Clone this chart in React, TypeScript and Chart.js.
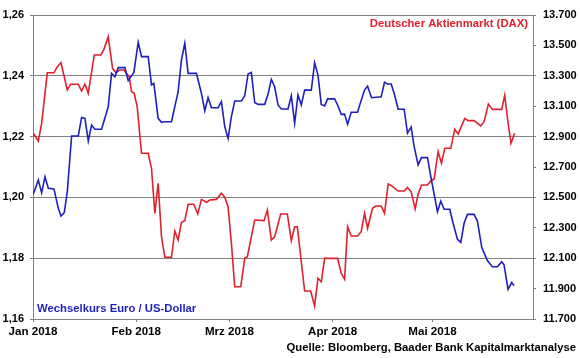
import React, { useEffect, useRef } from "react";
import { Chart, registerables } from "chart.js";

Chart.register(...registerables);

// x values: days since 1 Jan 2018
const usdDays = [0.1, 1.6, 2.6, 3.6, 4.6, 6.3, 7.6, 8.4, 9.4, 10.3, 11.6, 13.6, 14.6, 15.6, 16.6, 17.6, 18.6, 20.6, 22.6, 23.6, 24.6, 25.6, 27.6, 28.6, 30.3, 31.6, 32.6, 34.6, 35.6, 36.3, 37.6, 38.6, 39.6, 41.6, 43.6, 44.6, 45.6, 46.6, 49.1, 50.6, 51.6, 52.6, 53.6, 55.6, 56.6, 57.6, 58.6, 59.6, 60.6, 62.6, 63.6, 64.6, 65.6, 66.6, 67.6, 69.6, 70.6, 71.6, 72.6, 73.6, 74.6, 76.6, 77.6, 78.6, 79.6, 80.6, 81.6, 83.6, 84.6, 85.6, 86.6, 87.6, 88.5, 90.6, 91.5, 92.6, 93.6, 94.5, 95.6, 97.5, 98.6, 99.6, 100.5, 101.7, 104.6, 105.6, 106.5, 107.6, 108.5, 109.7, 111.5, 112.5, 113.6, 114.5, 115.7, 116.7, 118.5, 119.5, 121.5, 122.5, 123.5, 125.2, 126.2, 127.5, 128.5, 129.5, 130.5, 132.5, 133.5, 134.8, 136.5, 138.0, 139.5, 140.8, 141.5, 142.7, 143.8, 144.5];
const usdValues = [1.2011, 1.2057, 1.2015, 1.2068, 1.2030, 1.2028, 1.1964, 1.1939, 1.1950, 1.2019, 1.2202, 1.2202, 1.2263, 1.2260, 1.2186, 1.2238, 1.2224, 1.2224, 1.2298, 1.2408, 1.2397, 1.2427, 1.2427, 1.2384, 1.2411, 1.2510, 1.2463, 1.2463, 1.2370, 1.2375, 1.2260, 1.2247, 1.2249, 1.2249, 1.2348, 1.2452, 1.2507, 1.2408, 1.2408, 1.2342, 1.2285, 1.2328, 1.2295, 1.2295, 1.2315, 1.2233, 1.2194, 1.2266, 1.2317, 1.2317, 1.2334, 1.2406, 1.2411, 1.2312, 1.2306, 1.2306, 1.2339, 1.2388, 1.2364, 1.2304, 1.2291, 1.2291, 1.2334, 1.2244, 1.2337, 1.2304, 1.2353, 1.2353, 1.2443, 1.2403, 1.2306, 1.2301, 1.2324, 1.2324, 1.2304, 1.2273, 1.2274, 1.2241, 1.2280, 1.2280, 1.2320, 1.2353, 1.2366, 1.2328, 1.2331, 1.2379, 1.2373, 1.2373, 1.2342, 1.2290, 1.2290, 1.2211, 1.2231, 1.2167, 1.2107, 1.2131, 1.2131, 1.2068, 1.1953, 1.1988, 1.1961, 1.1961, 1.1915, 1.1862, 1.1852, 1.1915, 1.1944, 1.1944, 1.1922, 1.1836, 1.1792, 1.1772, 1.1772, 1.1788, 1.1778, 1.1698, 1.1720, 1.1710];

const daxDays = [0.1, 1.6, 2.6, 4.3, 6.3, 7.3, 8.4, 10.3, 11.3, 13.6, 14.6, 15.6, 16.6, 18.4, 20.4, 21.3, 22.6, 23.9, 24.9, 25.9, 27.3, 28.9, 29.6, 30.4, 31.3, 32.6, 34.6, 35.6, 36.6, 37.6, 38.6, 39.6, 41.6, 42.6, 43.6, 44.6, 45.6, 46.6, 48.3, 49.5, 50.6, 52.1, 53.1, 55.1, 56.6, 57.6, 58.6, 59.6, 60.6, 62.4, 63.6, 64.4, 66.6, 69.4, 70.4, 71.6, 72.6, 74.4, 76.4, 77.6, 78.6, 79.4, 81.6, 83.4, 84.6, 85.6, 86.6, 87.6, 91.5, 92.6, 93.6, 94.5, 95.6, 97.5, 98.6, 99.6, 100.5, 102.0, 103.0, 104.6, 105.6, 106.7, 107.7, 109.7, 111.5, 112.5, 113.6, 114.8, 115.7, 116.7, 118.5, 119.5, 120.5, 121.7, 122.7, 123.7, 125.5, 126.7, 127.7, 129.7, 130.7, 132.5, 134.5, 135.5, 136.8, 138.0, 140.8, 141.7, 142.7, 143.6, 144.7];
const daxValues = [12922, 12871, 12987, 13320, 13320, 13360, 13386, 13207, 13244, 13244, 13200, 13246, 13185, 13437, 13437, 13474, 13557, 13349, 13320, 13338, 13338, 13294, 13195, 13185, 13097, 12790, 12790, 12691, 12395, 12593, 12241, 12106, 12106, 12279, 12220, 12336, 12347, 12455, 12455, 12391, 12487, 12468, 12483, 12487, 12527, 12501, 12439, 12198, 11912, 11912, 12099, 12110, 12351, 12347, 12417, 12220, 12241, 12391, 12391, 12215, 12307, 12307, 11884, 11884, 11786, 11968, 11945, 12099, 12099, 11999, 11961, 12307, 12246, 12246, 12274, 12395, 12297, 12428, 12443, 12443, 12395, 12588, 12577, 12542, 12542, 12566, 12537, 12424, 12522, 12582, 12582, 12608, 12621, 12801, 12724, 12823, 12823, 12948, 12917, 13020, 13005, 13005, 12970, 12998, 13114, 13079, 13079, 13172, 12991, 12856, 12922];

const monthDays = [0, 31, 59, 90, 120];
const monthLabels = ["Jan 2018", "Feb 2018", "Mrz 2018", "Apr 2018", "Mai 2018"];
const leftTicks = [1.16, 1.18, 1.2, 1.22, 1.24, 1.26];
const rightTicks = [11700, 11900, 12100, 12300, 12500, 12700, 12900, 13100, 13300, 13500, 13700];

const usdLabel = "Wechselkurs Euro / US-Dollar";
const daxLabel = "Deutscher Aktienmarkt (DAX)";
const sourceLabel = "Quelle: Bloomberg, Baader Bank Kapitalmarktanalyse";

const BLUE = "#1f1fbf";
const RED = "#e0202c";
const GRID = "#808080";
const FAMILY = '"Liberation Sans", Arial, sans-serif';

const fmtThousand = (v: number) => {
  const t = Math.floor(v / 1000);
  const r = String(Math.round(v % 1000)).padStart(3, "0");
  return `${t}.${r}`;
};

const textPlugin = {
  id: "texts",
  afterDraw(chart: any) {
    const { ctx, chartArea } = chart;
    ctx.save();
    ctx.font = `bold 11.3px ${FAMILY}`;
    ctx.textBaseline = "middle";
    ctx.fillStyle = RED;
    ctx.textAlign = "right";
    ctx.fillText(daxLabel, chartArea.right - 5, chartArea.top + 9);
    ctx.fillStyle = BLUE;
    ctx.textAlign = "left";
    ctx.fillText(usdLabel, chartArea.left + 4, chartArea.bottom - 10);
    ctx.fillStyle = "#000";
    ctx.textAlign = "right";
    ctx.fillText(sourceLabel, chart.width - 4, chart.height - 10.5);
    ctx.restore();
  },
};

export default function App() {
  const ref = useRef<HTMLCanvasElement | null>(null);
  useEffect(() => {
    if (!ref.current) return;
    const tickFont = { family: FAMILY, size: 11, weight: "bold" as const };
    const chart = new Chart(ref.current, {
      type: "line",
      data: {
        datasets: [
          {
            label: usdLabel,
            data: usdDays.map((d, i) => ({ x: d, y: usdValues[i] })),
            borderColor: BLUE,
            borderWidth: 1.6,
            pointRadius: 0,
            tension: 0,
            yAxisID: "y",
          },
          {
            label: daxLabel,
            data: daxDays.map((d, i) => ({ x: d, y: daxValues[i] })),
            borderColor: RED,
            borderWidth: 1.6,
            pointRadius: 0,
            tension: 0,
            yAxisID: "y2",
          },
        ],
      },
      options: {
        animation: false,
        responsive: false,
        devicePixelRatio: 1,
        layout: { padding: { top: 15, left: 0, right: 0, bottom: 0 } },
        plugins: { legend: { display: false }, tooltip: { enabled: false } },
        scales: {
          x: {
            type: "linear",
            min: 0,
            max: 150.2,
            afterBuildTicks: (s: any) => {
              s.ticks = monthDays.map((v) => ({ value: v }));
            },
            afterFit: (s: any) => {
              s.height = 39;
            },
            ticks: {
              autoSkip: false,
              maxRotation: 0,
              padding: 3,
              color: "#000",
              font: { family: FAMILY, size: 11.6, weight: "bold" },
              callback: (_v: any, i: number) => monthLabels[i],
            },
            grid: { drawOnChartArea: false, drawTicks: true, tickLength: 3, color: GRID },
            border: { display: true, color: GRID },
          },
          y: {
            position: "left",
            min: 1.16,
            max: 1.26,
            afterBuildTicks: (s: any) => {
              s.ticks = leftTicks.map((v) => ({ value: v }));
            },
            afterFit: (s: any) => {
              s.width = 33;
            },
            ticks: {
              padding: 6,
              color: "#000",
              font: tickFont,
              callback: (v: any) => Number(v).toFixed(2).replace(".", ","),
            },
            grid: { color: GRID, tickLength: 3 },
            border: { display: true, color: GRID },
          },
          y2: {
            position: "right",
            min: 11700,
            max: 13700,
            afterBuildTicks: (s: any) => {
              s.ticks = rightTicks.map((v) => ({ value: v }));
            },
            afterFit: (s: any) => {
              s.width = 47;
            },
            ticks: {
              padding: 7,
              color: "#000",
              font: tickFont,
              callback: (v: any) => fmtThousand(Number(v)),
            },
            grid: { drawOnChartArea: false, tickLength: 3, color: GRID },
            border: { display: true, color: GRID },
          },
        },
      },
      plugins: [textPlugin],
    });
    return () => chart.destroy();
  }, []);
  return (
    <div style={{ position: "fixed", left: 0, top: 0, width: 580, height: 358, background: "#fff" }}>
      <canvas ref={ref} width={580} height={358} style={{ display: "block", width: 580, height: 358 }} />
    </div>
  );
}
